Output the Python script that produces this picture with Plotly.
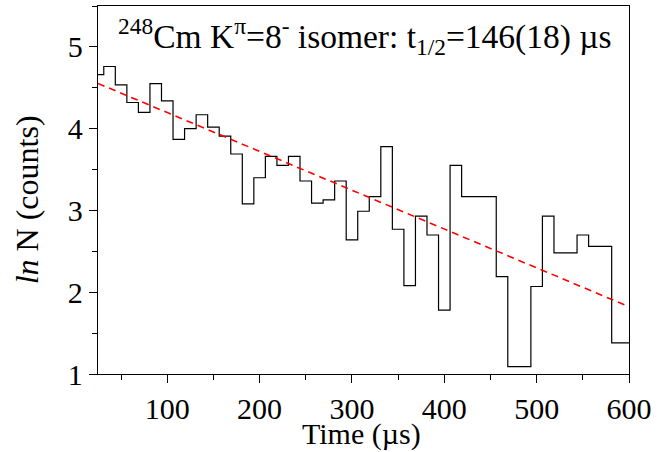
import plotly.graph_objects as go

# Bin centres (µs) and ln N values
time_us = [25, 37.5, 50, 62.5, 75, 87.5, 100, 112.5, 125, 137.5, 150, 162.5,
           175, 187.5, 200, 212.5, 225, 237.5, 250, 262.5, 275, 287.5, 300,
           312.5, 325, 337.5, 350, 362.5, 375, 387.5, 400, 412.5, 425, 437.5,
           450, 462.5, 475, 487.5, 500, 512.5, 525, 537.5, 550, 562.5, 575,
           587.5, 600]
ln_counts = [4.66, 4.76, 4.535, 4.32, 4.20, 4.55, 4.34, 3.87, 4.00, 4.17, 4.02,
             3.91, 3.69, 3.08, 3.40, 3.66, 3.55, 3.66, 3.36, 3.09, 3.13, 3.36,
             2.64, 2.99, 3.17, 3.78, 2.77, 2.08, 2.93, 2.70, 1.78, 3.55, 3.17,
             3.17, 3.17, 2.19, 1.09, 1.09, 2.07, 2.93, 2.48, 2.48, 2.70, 2.56,
             2.56, 1.38, 1.38]

# Exponential-decay fit line (end points)
fit_x = [25, 600]
fit_y = [4.553, 1.823]

x_ticks = [100, 200, 300, 400, 500, 600]
y_ticks = [1, 2, 3, 4, 5]

FONT = "Liberation Serif, Times New Roman, serif"

fig = go.Figure()
fig.add_trace(go.Scatter(
    x=time_us, y=ln_counts, mode="lines", line_shape="hvh",
    line=dict(color="black", width=1.2), showlegend=False, hoverinfo="skip"))
fig.add_trace(go.Scatter(
    x=fit_x, y=fit_y, mode="lines",
    line=dict(color="#ff0000", width=1.6, dash="7px,5px"),
    showlegend=False, hoverinfo="skip"))

axis_common = dict(
    showgrid=False, zeroline=False, showline=True, mirror=True,
    linecolor="black", linewidth=1.3, ticks="outside", ticklen=8,
    tickwidth=1.3, tickcolor="black",
    tickfont=dict(family=FONT, size=30, color="black"),
)
fig.update_xaxes(range=[25, 600], tickvals=x_ticks,
                 ticktext=[str(v) for v in x_ticks],
                 minor=dict(dtick=50, tick0=0, ticks="outside", ticklen=5,
                            tickwidth=1.3, tickcolor="black"),
                 **axis_common)
fig.update_yaxes(range=[1, 5.5], tickvals=y_ticks,
                 ticktext=[str(v) for v in y_ticks],
                 minor=dict(dtick=0.5, tick0=0, ticks="outside", ticklen=5,
                            tickwidth=1.3, tickcolor="black"),
                 **axis_common)

fig.update_layout(
    width=670, height=452,
    margin=dict(l=98, r=41, t=6, b=78, pad=0),
    paper_bgcolor="white", plot_bgcolor="white",
    font=dict(family=FONT, color="black"),
    annotations=[
        dict(text="<sup>248</sup>Cm K<sup>π</sup>=8<sup>-</sup> isomer: t<sub>1/2</sub>=146(18) µs",
             xref="paper", yref="paper", x=0.033, y=0.918,
             xanchor="left", yanchor="middle", showarrow=False,
             font=dict(family=FONT, size=33.5, color="black")),
        dict(text="Time (µs)", xref="paper", yref="paper", x=0.497, y=-0.164,
             xanchor="center", yanchor="middle", showarrow=False,
             font=dict(family=FONT, size=30, color="black")),
        dict(text="<i>ln</i> N (counts)", xref="paper", yref="paper",
             x=-0.133, y=0.473, xanchor="center", yanchor="middle",
             textangle=-90, showarrow=False,
             font=dict(family=FONT, size=32, color="black")),
    ],
)

fig.write_html(
    "out.html",
    config={"displayModeBar": False},
    post_script="document.body.style.margin='0';document.body.style.padding='0';",
)
